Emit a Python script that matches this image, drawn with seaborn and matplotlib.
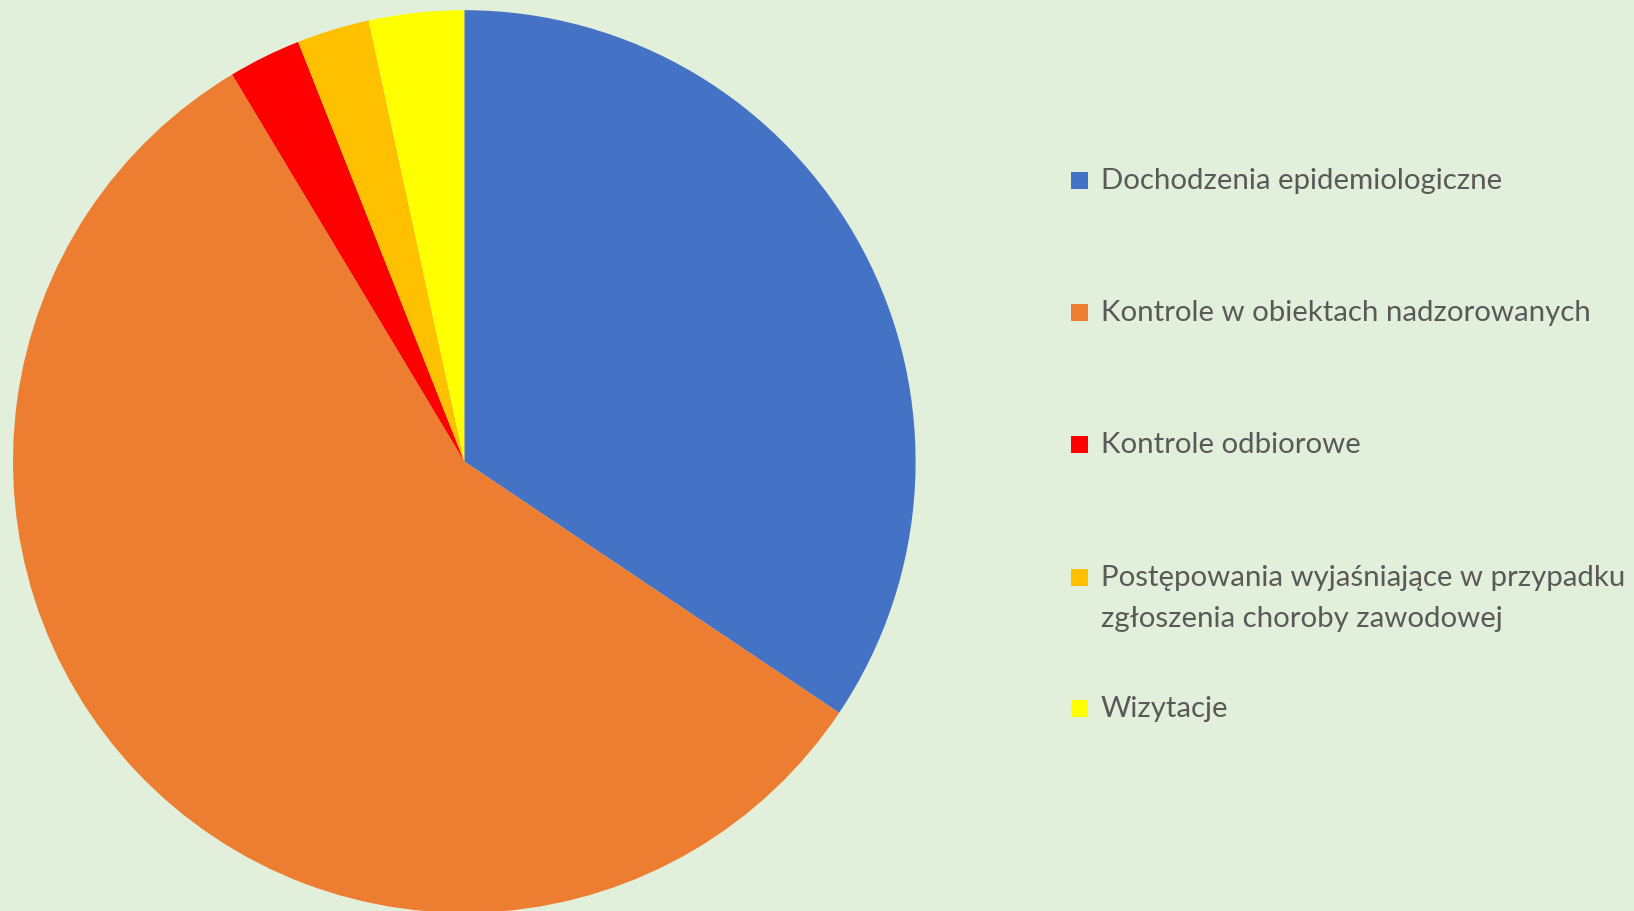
import matplotlib.pyplot as plt
import matplotlib.patches as mpatches
import seaborn as sns

categories = [
    "Dochodzenia epidemiologiczne",
    "Kontrole w obiektach nadzorowanych",
    "Kontrole odbiorowe",
    "Postępowania wyjaśniające w przypadku\nzgłoszenia choroby zawodowej",
    "Wizytacje",
]
shares = [34.4, 57.0, 2.6, 2.6, 3.4]
colors = ["#4472C4", "#ED7D31", "#FF0000", "#FFC000", "#FFFF00"]

sns.set_style("white")
plt.rcParams["font.family"] = ["Lato", "DejaVu Sans"]

bg = "#E2EFDA"
fig = plt.figure(figsize=(16.34, 9.12), dpi=100, facecolor=bg)
W, H = 1634, 912

# pie axes: centre (464, 462) px, radius 451 px
cx, cy, r = 464.3, 462.5, 451.3
ax = fig.add_axes([(cx - r) / W, (H - cy - r) / H, 2 * r / W, 2 * r / H])
ax.set_facecolor(bg)
ax.pie(shares, colors=colors, startangle=90, counterclock=False,
       wedgeprops={"linewidth": 0})
ax.set_xlim(-1, 1)
ax.set_ylim(-1, 1)
ax.set_aspect("equal")
ax.axis("off")

# legend drawn by hand to keep Excel-like spacing
text_color = "#595959"
first_line_y = [181, 313, 445, 578, 709]
for label, col, y in zip(categories, colors, first_line_y):
    fig.patches.append(mpatches.Rectangle(
        (1071 / W, (H - y - 8.5) / H), 17 / W, 17 / H,
        transform=fig.transFigure, facecolor=col, edgecolor="none"))
    lines = label.split("\n")
    for i, line in enumerate(lines):
        fig.text(1101 / W, (H - y - 41 * i) / H, line, color=text_color,
                 fontsize=21.2, va="center", ha="left")

fig.savefig("out.png", dpi=100, facecolor=bg)
